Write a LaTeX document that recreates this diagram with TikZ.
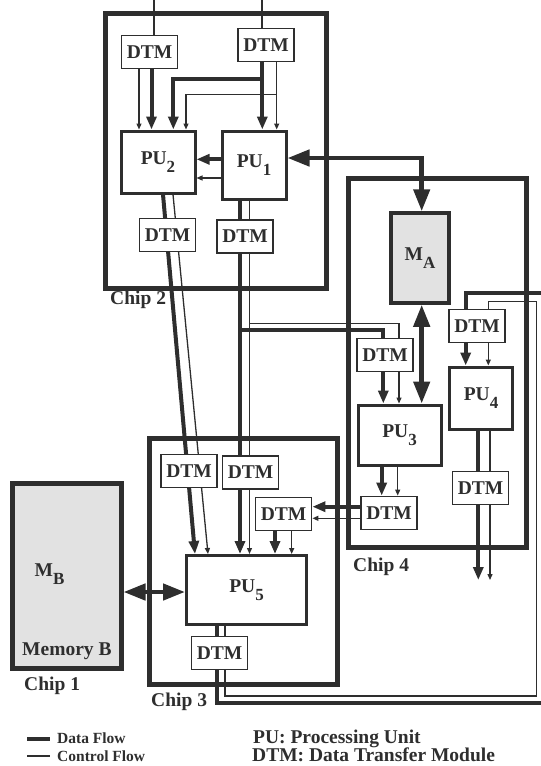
\documentclass[tikz,border=0pt]{standalone}
\usepackage{fontspec}
\setmainfont{Liberation Serif}
\usepackage{tikz}
\usetikzlibrary{arrows.meta,backgrounds}
\definecolor{InkGrey}{HTML}{2E2E2E}
\definecolor{MemGrey}{HTML}{E2E2E2}
\newcommand{\subidx}[1]{\raisebox{-0.42em}{\fontsize{17}{17}\selectfont #1}}
\tikzset{
  chipbox/.style={
    draw=InkGrey,line width=5pt,inner sep=0pt
  },
  membox/.style={
    draw=InkGrey,fill=MemGrey,inner sep=0pt,
    font=\fontsize{19.5}{22}\selectfont\bfseries,text=InkGrey
  },
  pubox/.style={
    draw=InkGrey,fill=white,line width=3pt,inner sep=0pt,
    font=\fontsize{19.5}{22}\selectfont\bfseries,text=InkGrey
  },
  dtmbox/.style={
    draw=InkGrey,fill=white,line width=1.8pt,inner sep=0pt,
    minimum width=56pt,minimum height=33pt,
    font=\fontsize{19.5}{22}\selectfont\bfseries,text=InkGrey
  },
  chiplabel/.style={
    anchor=base west,inner sep=0pt,
    font=\fontsize{19.5}{22}\selectfont\bfseries,text=InkGrey
  },
  keytext/.style={
    anchor=base west,inner sep=0pt,
    font=\fontsize{15.5}{17}\selectfont\bfseries,text=InkGrey
  },
  dataline/.style={draw=InkGrey,line width=4pt},
  ctrlline/.style={draw=InkGrey,line width=1.3pt},
  feedline/.style={draw=InkGrey,line width=2pt},
  datalink/.style={dataline,-{Triangle[length=13pt,width=10pt]}},
  ctrllink/.style={ctrlline,-{Triangle[length=6pt,width=5pt]}},
  buslink/.style={
    draw=InkGrey,line width=4.5pt,
    {Triangle[length=22pt,width=16pt]}-{Triangle[length=22pt,width=16pt]}
  },
}

\begin{document}
\begin{tikzpicture}[x=1pt,y=-1pt]
  \useasboundingbox (0,0) rectangle (541,766);
  \clip (0,0) rectangle (541,766);
  % chips
  \node[chipbox,minimum width=221pt,minimum height=275pt] (chip2) at (215.5,150.5) {};
  \node[chipbox,minimum width=188pt,minimum height=246pt] (chip3) at (243,561) {};
  \node[chipbox,minimum width=178pt,minimum height=369pt] (chip4) at (437,362.5) {};
  \node[membox,line width=5pt,minimum width=109pt,minimum height=185pt] (chip1) at (66.5,575.5) {};
  \node[chiplabel] (lbl1) at (24,690) {Chip 1};
  \node[chiplabel] (lbl2) at (110,304) {Chip 2};
  \node[chiplabel] (lbl3) at (151,706) {Chip 3};
  \node[chiplabel] (lbl4) at (353,571) {Chip 4};
  \node[chiplabel] (mbname) at (34.5,576) {M\subidx{B}};
  \node[chiplabel] (mbtext) at (22,655) {Memory B};
  % processing units and memory A
  \node[pubox,minimum width=64pt,minimum height=68pt] (pu1) at (254,165) {PU\subidx{1}};
  \node[pubox,minimum width=74pt,minimum height=62pt] (pu2) at (158,162) {PU\subidx{2}};
  \node[pubox,minimum width=83pt,minimum height=60pt] (pu3) at (399.5,435) {PU\subidx{3}};
  \node[pubox,minimum width=63pt,minimum height=62pt] (pu4) at (481,398) {PU\subidx{4}};
  \node[pubox,minimum width=120pt,minimum height=69pt] (pu5) at (246.5,590) {PU\subidx{5}};
  \node[membox,line width=3.5pt,minimum width=58pt,minimum height=90pt] (ma) at (420,258) {M\subidx{A}};
  % transfer modules
  \node[dtmbox] (d2a) at (149.5,52) {DTM};
  \node[dtmbox] (d2b) at (266,45) {DTM};
  \node[dtmbox] (d2c) at (167.5,235) {DTM};
  \node[dtmbox] (d2d) at (245,236.5) {DTM};
  \node[dtmbox] (d3a) at (189,471) {DTM};
  \node[dtmbox] (d3b) at (250.5,472.5) {DTM};
  \node[dtmbox] (d3c) at (283.5,514) {DTM};
  \node[dtmbox] (d3d) at (219.5,653) {DTM};
  \node[dtmbox] (d4a) at (385,355) {DTM};
  \node[dtmbox] (d4b) at (389,513) {DTM};
  \node[dtmbox] (d4c) at (477,326) {DTM};
  \node[dtmbox] (d4d) at (480.5,488) {DTM};
  % corner points
  \coordinate (top2a) at (154,0);
  \coordinate (top2b) at (262.3,0);
  \coordinate (br2d) at (173.3,79);
  \coordinate (br2c) at (186,94.3);
  \coordinate (br4d) at (383.3,330);
  \coordinate (br4c) at (399,323.3);
  \coordinate (busA) at (421.7,158);
  \coordinate (busB) at (150,592);
  \coordinate (out4d) at (478.3,580);
  \coordinate (out4c) at (490,580);
  \coordinate (rimd1) at (543,702.6);
  \coordinate (rimd2) at (465.7,293.3);
  \coordinate (rimc1) at (536.7,696);
  \coordinate (rimc2) at (488.3,301.7);
  \begin{scope}[on background layer]
    % chip 2
    \draw[feedline] (top2a) -- (top2a |- d2a.north);
    \draw[feedline] (top2b) -- (top2b |- d2b.north);
    \draw[ctrllink] ([xshift=-10.5pt]d2a.south) -- ([xshift=-10.5pt]d2a.south |- pu2.north);
    \draw[datalink] ([xshift=2pt]d2a.south) -- ([xshift=2pt]d2a.south |- pu2.north);
    \draw[datalink] (top2b |- d2b.south) -- (top2b |- pu1.north);
    \draw[ctrllink] ([xshift=10.7pt]d2b.south) -- ([xshift=10.7pt]d2b.south |- pu1.north);
    \draw[datalink] (top2b |- br2d) -- (br2d) -- (br2d |- pu2.north);
    \draw[ctrllink] ([xshift=10.7pt]d2b.south |- br2c) -- (br2c) -- (br2c |- pu2.north);
    \draw[datalink] ([yshift=5.7pt]pu1.west) -- ([yshift=5.7pt]pu1.west -| pu2.east);
    \draw[ctrllink] ([yshift=-13pt]pu1.west) -- ([yshift=-13pt]pu1.west -| pu2.east);
    % chip 2 to chip 3 and chip 4
    \draw[datalink] ([xshift=5pt]pu2.south) -- ([xshift=-51.5pt]pu5.north);
    \draw[ctrllink] ([xshift=15pt]pu2.south) -- ([xshift=-38.5pt]pu5.north);
    \draw[datalink] ([xshift=-14pt]pu1.south) -- ([xshift=-14pt]pu1.south |- pu5.north);
    \draw[ctrllink] ([xshift=-4.5pt]pu1.south) -- ([xshift=-4.5pt]pu1.south |- pu5.north);
    \draw[dataline] ([xshift=-14pt]pu1.south |- br4d) -- (br4d) -- (br4d |- d4a.north);
    \draw[ctrlline] ([xshift=-4.5pt]pu1.south |- br4c) -- (br4c) -- (br4c |- d4a.north);
    \draw[buslink] (pu1.east |- busA) -- (busA) -- (busA |- ma.north);
    % chip 4
    \draw[buslink] (busA |- ma.south) -- (busA |- pu3.north);
    \draw[datalink] (br4d |- d4a.south) -- (br4d |- pu3.north);
    \draw[ctrllink] (br4c |- d4a.south) -- (br4c |- pu3.north);
    \draw[datalink] ([xshift=-17.8pt]pu3.south) -- ([xshift=-17.8pt]pu3.south |- d4b.north);
    \draw[ctrllink] ([xshift=-1.8pt]pu3.south) -- ([xshift=-1.8pt]pu3.south |- d4b.north);
    \draw[datalink] ([yshift=6.3pt]d4b.west) -- ([yshift=6.3pt]d4b.west -| d3c.east);
    \draw[ctrllink] ([yshift=-5.3pt]d4b.west) -- ([yshift=-5.3pt]d4b.west -| d3c.east);
    \draw[datalink] (rimd2 |- d4c.south) -- (rimd2 |- pu4.north);
    \draw[ctrllink] (rimc2 |- d4c.south) -- (rimc2 |- pu4.north);
    \draw[datalink] (out4d |- pu4.south) -- (out4d);
    \draw[ctrllink] (out4c |- pu4.south) -- (out4c);
    % chip 3
    \draw[datalink] ([xshift=-8.5pt]d3c.south) -- ([xshift=-8.5pt]d3c.south |- pu5.north);
    \draw[ctrllink] ([xshift=8.2pt]d3c.south) -- ([xshift=8.2pt]d3c.south |- pu5.north);
    \draw[buslink] (chip1.east |- busB) -- (pu5.west |- busB);
    \draw[dataline] ([xshift=-29.8pt]pu5.south) |- (rimd1) |- (rimd2) -- (rimd2 |- d4c.north);
    \draw[ctrlline] ([xshift=-21.5pt]pu5.south) |- (rimc1) |- (rimc2) -- (rimc2 |- d4c.north);
  \end{scope}
  % legend
  \coordinate (keyd) at (27,738.5);
  \coordinate (keyc) at (27,756);
  \draw[dataline] (keyd) -- ++(23,0);
  \draw[ctrlline] (keyc) -- ++(23,0);
  \node[keytext] (keydtext) at (57,743) {Data Flow};
  \node[keytext] (keyctext) at (57,761) {Control Flow};
  \node[chiplabel] (keypu) at (253,743.5) {PU: Processing Unit};
  \node[chiplabel] (keydtm) at (252,761.5) {DTM: Data Transfer Module};
\end{tikzpicture}
\end{document}
